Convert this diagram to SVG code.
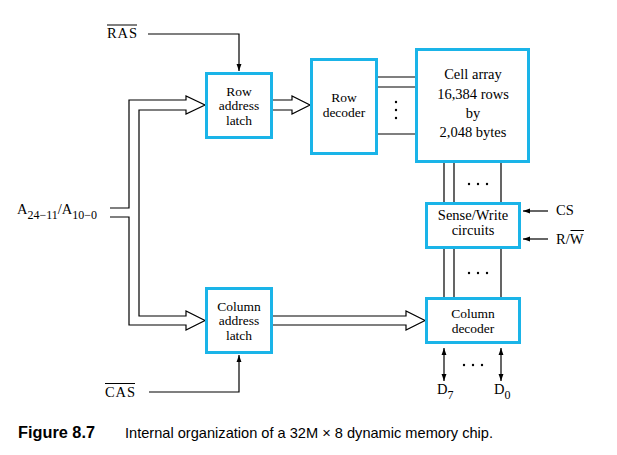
<svg xmlns="http://www.w3.org/2000/svg" width="617" height="455" viewBox="0 0 617 455">
<style>
.box{fill:#fff;stroke:#1ab4e8;stroke-width:3}
.ln{fill:none;stroke:#000;stroke-width:1.2}
.hol{fill:#fff;stroke:#000;stroke-width:1.2;stroke-linejoin:miter}
.t{font-family:"Liberation Serif","Times New Roman",serif;font-size:14.5px;fill:#000}
.s{font-size:13.5px}
.c{text-anchor:middle}
.cap{font-family:"Liberation Sans",Arial,sans-serif;fill:#000}
</style>
<defs>
<marker id="ah" viewBox="0 0 10 10" refX="10" refY="5" markerWidth="7" markerHeight="7" markerUnits="userSpaceOnUse" orient="auto-start-reverse">
<path d="M0,1.5 L10,5 L0,8.5 Z" fill="#000"/>
</marker>
</defs>
<rect width="617" height="455" fill="#fff"/>
<g id="connectors">
<path class="hol" d="M110,208 H129 V100 H186 V96 L205,105 L186,114 V110 H139 V316 H186 V311 L205,320.5 L186,330 V325 H129 V217 H110"/>
<path class="hol" d="M273,100 H292 V96 L310,105 L292,114 V110 H273"/>
<path class="hol" d="M273,316 H406 V311 L425,320.5 L406,330 V325 H273"/>
<path class="ln" d="M148,34 H239 V71" marker-end="url(#ah)"/>
<path class="ln" d="M149,392 H239 V355" marker-end="url(#ah)"/>
<path class="ln" d="M378,77 H415 M378,87 H415 M378,134 H415"/>
<path class="ln" d="M444,163 V202 M454,163 V202 M501,163 V202"/>
<path class="ln" d="M444,249 V297 M454,249 V297 M501,249 V297"/>
<path class="ln" d="M548,211 H523" marker-end="url(#ah)"/>
<path class="ln" d="M548,239 H523" marker-end="url(#ah)"/>
<path class="ln" d="M444,348 V381" marker-start="url(#ah)" marker-end="url(#ah)"/>
<path class="ln" d="M501,348 V381" marker-start="url(#ah)" marker-end="url(#ah)"/>
<g fill="#000">
<circle cx="396" cy="102" r="1.2"/><circle cx="396" cy="110" r="1.2"/><circle cx="396" cy="118" r="1.2"/>
<circle cx="469" cy="184" r="1.2"/><circle cx="478" cy="184" r="1.2"/><circle cx="487" cy="184" r="1.2"/>
<circle cx="469" cy="273" r="1.2"/><circle cx="478" cy="273" r="1.2"/><circle cx="487" cy="273" r="1.2"/>
<circle cx="464" cy="365" r="1.2"/><circle cx="473" cy="365" r="1.2"/><circle cx="482" cy="365" r="1.2"/>
</g>
</g>
<g id="ras">
<text class="t" x="107" y="38" textLength="30" lengthAdjust="spacing">RAS</text>
<line x1="107" y1="25" x2="137" y2="25" stroke="#000" stroke-width="1"/>
</g>
<g id="cas">
<text class="t" x="105" y="397" textLength="30" lengthAdjust="spacing">CAS</text>
<line x1="105" y1="383.5" x2="135" y2="383.5" stroke="#000" stroke-width="1"/>
</g>
<g id="addr">
<text class="t" x="17" y="214" font-size="15">A<tspan font-size="12" dy="5">24−11</tspan><tspan dy="-5">/A</tspan><tspan font-size="12" dy="5">10−0</tspan></text>
</g>
<g id="row-address-latch">
<rect class="box" x="206.5" y="73.5" width="65" height="64"/>
<text class="t s c" x="239" y="95.5">Row</text>
<text class="t s c" x="239" y="110">address</text>
<text class="t s c" x="239" y="124.5">latch</text>
</g>
<g id="row-decoder">
<rect class="box" x="311.5" y="59.5" width="65" height="94"/>
<text class="t s c" x="344" y="101.5">Row</text>
<text class="t s c" x="344" y="116.5">decoder</text>
</g>
<g id="cell-array">
<rect class="box" x="416.5" y="49.5" width="112" height="112"/>
<text class="t c" x="473" y="79">Cell array</text>
<text class="t c" x="473" y="98.5">16,384 rows</text>
<text class="t c" x="473" y="117.5">by</text>
<text class="t c" x="473" y="136.5">2,048 bytes</text>
</g>
<g id="sense-write">
<rect class="box" x="426.5" y="203.5" width="93" height="44"/>
<text class="t c" x="473" y="219.5">Sense/Write</text>
<text class="t c" x="473" y="235">circuits</text>
</g>
<g id="column-address-latch">
<rect class="box" x="206.5" y="288.5" width="65" height="64"/>
<text class="t s c" x="239" y="310.5">Column</text>
<text class="t s c" x="239" y="325">address</text>
<text class="t s c" x="239" y="339.5">latch</text>
</g>
<g id="column-decoder">
<rect class="box" x="426.5" y="298.5" width="93" height="44"/>
<text class="t s c" x="473" y="317.5">Column</text>
<text class="t s c" x="473" y="332.5">decoder</text>
</g>
<g id="cs"><text class="t" x="556" y="215">CS</text></g>
<g id="rw">
<text class="t" x="556" y="244">R/W</text>
<line x1="570.5" y1="230.5" x2="584" y2="230.5" stroke="#000" stroke-width="1"/>
</g>
<g id="d7"><text class="t" x="437" y="394">D<tspan font-size="12" dy="5">7</tspan></text></g>
<g id="d0"><text class="t" x="494" y="394">D<tspan font-size="12" dy="5">0</tspan></text></g>
<g id="caption">
<text class="cap" x="18" y="438" font-size="16" font-weight="bold" textLength="77" lengthAdjust="spacingAndGlyphs">Figure 8.7</text>
<text class="cap" x="125" y="438" font-size="14.5" textLength="368" lengthAdjust="spacingAndGlyphs">Internal organization of a 32M × 8 dynamic memory chip.</text>
</g>
</svg>
